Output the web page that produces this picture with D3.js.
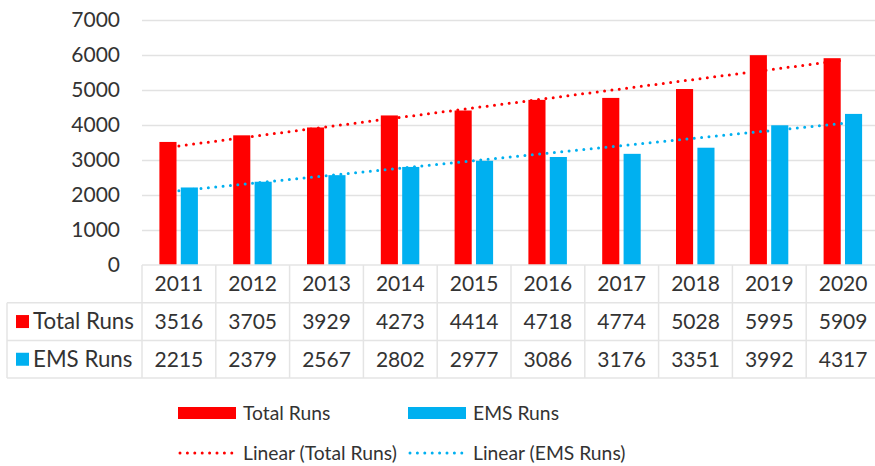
<!DOCTYPE html>
<html>
<head>
<meta charset="utf-8">
<script src="https://cdn.jsdelivr.net/npm/d3@7"></script>
<style>
  body { margin: 0; background: #fff; }
  svg { display: block; font-family: Lato, "Open Sans", sans-serif; }
</style>
</head>
<body>
<svg id="chart" width="875" height="466"></svg>
<script>
// Data
const years = ["2011", "2012", "2013", "2014", "2015", "2016", "2017", "2018", "2019", "2020"];
const totalRuns = [3516, 3705, 3929, 4273, 4414, 4718, 4774, 5028, 5995, 5909];
const emsRuns = [2215, 2379, 2567, 2802, 2977, 3086, 3176, 3351, 3992, 4317];
const yTicks = [0, 1000, 2000, 3000, 4000, 5000, 6000, 7000];

const seriesList = [
    { key: "Total Runs", values: totalRuns, color: "#ff0000" },
    { key: "EMS Runs", values: emsRuns, color: "#00b0f0" }
];

// Layout
const plotLeft = 142, colW = 73.8;
const plotRight = plotLeft + years.length * colW;
const plotTop = 20, plotBottom = 265;
const rowH = 37.7;
const textColor = "#333";
const gridColor = "#e2e2e2";

const svg = d3.select("#chart");

// Scales
const xScale = d3.scaleBand().domain(years).range([plotLeft, plotRight]);
const bw = xScale.bandwidth();
const xSub = d3.scaleBand()
    .domain(seriesList.map(s => s.key))
    .range([bw / 2 - 19.5, bw / 2 + 19])
    .paddingInner(0.2);
const yScale = d3.scaleLinear().domain([0, 7000]).range([plotBottom, plotTop]);

// Gridlines
svg.append("g")
    .attr("class", "grid")
    .attr("transform", `translate(${plotLeft},0)`)
    .call(d3.axisLeft(yScale).tickValues(yTicks.slice(1)).tickSize(-(plotRight - plotLeft)).tickFormat(""))
    .call(g => g.select(".domain").remove())
    .selectAll("line")
    .attr("stroke", gridColor)
    .attr("stroke-width", 1.5);

// Y axis labels
svg.append("g")
    .attr("class", "y-axis")
    .attr("transform", `translate(${plotLeft - 22},0)`)
    .call(d3.axisLeft(yScale).tickValues(yTicks).tickFormat(d3.format("d")).tickSize(0).tickPadding(0))
    .call(g => g.select(".domain").remove())
    .selectAll("text")
    .attr("fill", textColor)
    .style("font-size", "21px")
    .style("font-family", "Lato, sans-serif");

// Bars
const barGroups = svg.selectAll(".bar-group")
    .data(years)
    .enter().append("g")
    .attr("class", "bar-group")
    .attr("transform", d => `translate(${xScale(d)},0)`);

barGroups.selectAll("rect")
    .data((d, i) => seriesList.map(s => ({ key: s.key, color: s.color, value: s.values[i] })))
    .enter().append("rect")
    .attr("x", d => xSub(d.key))
    .attr("width", xSub.bandwidth())
    .attr("y", d => yScale(d.value))
    .attr("height", d => plotBottom - yScale(d.value))
    .attr("fill", d => d.color);

// Linear trendlines (least squares on index 1..n)
function linearFit(values) {
    const xs = values.map((v, i) => i + 1);
    const mx = d3.mean(xs), my = d3.mean(values);
    const slope = d3.sum(xs, (x, i) => (x - mx) * (values[i] - my)) / d3.sum(xs, x => (x - mx) ** 2);
    const intercept = my - slope * mx;
    return xs.map(x => intercept + slope * x);
}

const line = d3.line()
    .x((d, i) => xScale(years[i]) + bw / 2)
    .y(d => yScale(d));

seriesList.forEach(s => {
    svg.append("path")
        .attr("class", "trend")
        .attr("d", line(linearFit(s.values)))
        .attr("fill", "none")
        .attr("stroke", s.color)
        .attr("stroke-width", 3)
        .attr("stroke-linecap", "round")
        .attr("stroke-dasharray", "0,7.4");
});

// Data table
const table = svg.append("g").attr("class", "data-table");
const tableLeft = 7;
const borderColor = "#e4e4e4";

// horizontal lines
table.append("line")
    .attr("x1", plotLeft).attr("x2", plotRight)
    .attr("y1", plotBottom).attr("y2", plotBottom)
    .attr("stroke", borderColor).attr("stroke-width", 1.5);
[1, 2, 3].forEach(r => {
    table.append("line")
        .attr("x1", tableLeft).attr("x2", plotRight)
        .attr("y1", plotBottom + r * rowH).attr("y2", plotBottom + r * rowH)
        .attr("stroke", borderColor).attr("stroke-width", 1.5);
});
// vertical lines
table.append("line")
    .attr("x1", tableLeft).attr("x2", tableLeft)
    .attr("y1", plotBottom + rowH).attr("y2", plotBottom + 3 * rowH)
    .attr("stroke", borderColor).attr("stroke-width", 1.5);
table.selectAll(".vline")
    .data(years.concat(["end"]))
    .enter().append("line")
    .attr("class", "vline")
    .attr("x1", (d, i) => plotLeft + i * colW)
    .attr("x2", (d, i) => plotLeft + i * colW)
    .attr("y1", plotBottom).attr("y2", plotBottom + 3 * rowH)
    .attr("stroke", borderColor).attr("stroke-width", 1.5);

// header years
table.selectAll(".year")
    .data(years)
    .enter().append("text")
    .attr("class", "year")
    .attr("x", d => xScale(d) + bw / 2)
    .attr("y", plotBottom + rowH / 2)
    .attr("dy", "0.35em")
    .attr("text-anchor", "middle")
    .attr("fill", textColor)
    .style("font-size", "21px")
    .text(d => d);

// series rows
seriesList.forEach((s, r) => {
    const cy = plotBottom + (r + 1.5) * rowH;
    table.append("rect")
        .attr("x", 16).attr("y", cy - 6.5)
        .attr("width", 13).attr("height", 13)
        .attr("fill", s.color);
    table.append("text")
        .attr("x", 33).attr("y", cy)
        .attr("dy", "0.35em")
        .attr("fill", textColor)
        .style("font-size", "22.3px")
        .text(s.key);
    table.selectAll(".val-" + r)
        .data(s.values)
        .enter().append("text")
        .attr("x", (d, i) => xScale(years[i]) + bw / 2)
        .attr("y", cy)
        .attr("dy", "0.35em")
        .attr("text-anchor", "middle")
        .attr("fill", textColor)
        .style("font-size", "21px")
        .text(d => d);
});

// Legend
const legendItems = [
    { label: "Total Runs", color: "#ff0000", type: "bar", x: 178, y: 413 },
    { label: "EMS Runs", color: "#00b0f0", type: "bar", x: 408, y: 413 },
    { label: "Linear (Total Runs)", color: "#ff0000", type: "trend", x: 178, y: 453 },
    { label: "Linear (EMS Runs)", color: "#00b0f0", type: "trend", x: 408, y: 453 }
];

const legend = svg.append("g").attr("class", "legend");
legendItems.forEach(d => {
    if (d.type === "bar") {
        legend.append("rect")
            .attr("x", d.x).attr("y", d.y - 6)
            .attr("width", 58).attr("height", 12)
            .attr("fill", d.color);
    } else {
        legend.append("line")
            .attr("x1", d.x + 2).attr("x2", d.x + 56)
            .attr("y1", d.y).attr("y2", d.y)
            .attr("stroke", d.color)
            .attr("stroke-width", 3)
            .attr("stroke-linecap", "round")
            .attr("stroke-dasharray", "0,7.4");
    }
    legend.append("text")
        .attr("x", d.x + 65)
        .attr("y", d.y)
        .attr("dy", "0.35em")
        .attr("fill", textColor)
        .style("font-size", "19.3px")
        .text(d.label);
});
</script>
</body>
</html>
